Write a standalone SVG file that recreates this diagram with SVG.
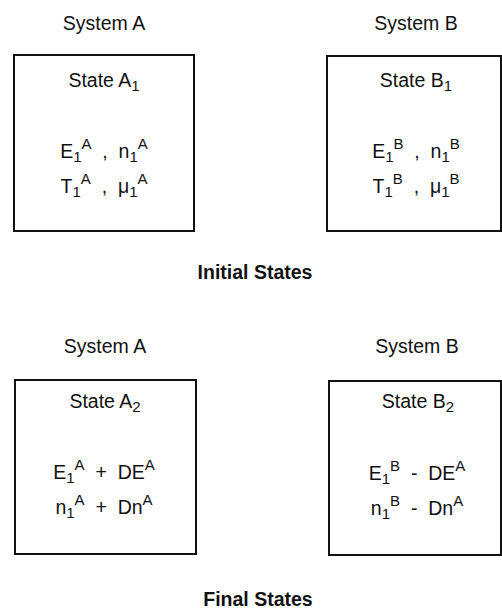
<svg xmlns="http://www.w3.org/2000/svg" width="502" height="612" viewBox="0 0 502 612">
<style>
text{font-family:"Liberation Sans",Arial,Helvetica,sans-serif;font-size:19.5px;fill:#111;text-anchor:middle;white-space:pre}
.b{font-weight:bold}
.s{font-size:15px}
.box{fill:#fff;stroke:#111;stroke-width:2}
</style>
<rect x="0" y="0" width="502" height="612" fill="#fff"/>
<g id="initial">
<g id="sysA1"><text x="104" y="30">System A</text></g>
<g id="sysB1"><text x="416" y="30">System B</text></g>
<g id="stateA1">
<rect class="box" x="14" y="55" width="180" height="176"/>
<text x="104" y="87">State A<tspan class="s" dy="4">1</tspan></text>
<text x="104" y="158" xml:space="preserve">E<tspan class="s" dy="4">1</tspan><tspan class="s" dy="-13">A</tspan><tspan dy="9">  ,  n</tspan><tspan class="s" dy="4">1</tspan><tspan class="s" dy="-13">A</tspan></text>
<text x="104" y="193" xml:space="preserve">T<tspan class="s" dy="4">1</tspan><tspan class="s" dy="-13">A</tspan><tspan dy="9">  ,  μ</tspan><tspan class="s" dy="4">1</tspan><tspan class="s" dy="-13">A</tspan></text>
</g>
<g id="stateB1">
<rect class="box" x="327" y="56" width="174" height="175"/>
<text x="416" y="87">State B<tspan class="s" dy="4">1</tspan></text>
<text x="416" y="158" xml:space="preserve">E<tspan class="s" dy="4">1</tspan><tspan class="s" dy="-13">B</tspan><tspan dy="9">  ,  n</tspan><tspan class="s" dy="4">1</tspan><tspan class="s" dy="-13">B</tspan></text>
<text x="416" y="193" xml:space="preserve">T<tspan class="s" dy="4">1</tspan><tspan class="s" dy="-13">B</tspan><tspan dy="9">  ,  μ</tspan><tspan class="s" dy="4">1</tspan><tspan class="s" dy="-13">B</tspan></text>
</g>
<g id="initialLabel"><text class="b" x="255" y="279">Initial States</text></g>
</g>
<g id="final">
<g id="sysA2"><text x="105" y="353">System A</text></g>
<g id="sysB2"><text x="417" y="353">System B</text></g>
<g id="stateA2">
<rect class="box" x="15" y="380" width="181" height="174"/>
<text x="105" y="408">State A<tspan class="s" dy="4">2</tspan></text>
<text x="104" y="479" xml:space="preserve">E<tspan class="s" dy="4">1</tspan><tspan class="s" dy="-13">A</tspan><tspan dy="9">  +  DE</tspan><tspan class="s" dy="-9">A</tspan></text>
<text x="104" y="514" xml:space="preserve">n<tspan class="s" dy="4">1</tspan><tspan class="s" dy="-13">A</tspan><tspan dy="9">  +  Dn</tspan><tspan class="s" dy="-9">A</tspan></text>
</g>
<g id="stateB2">
<rect class="box" x="329" y="381" width="172" height="174"/>
<text x="418" y="408">State B<tspan class="s" dy="4">2</tspan></text>
<text x="417" y="480" xml:space="preserve">E<tspan class="s" dy="4">1</tspan><tspan class="s" dy="-13">B</tspan><tspan dy="9">  -  DE</tspan><tspan class="s" dy="-9">A</tspan></text>
<text x="417" y="515" xml:space="preserve">n<tspan class="s" dy="4">1</tspan><tspan class="s" dy="-13">B</tspan><tspan dy="9">  -  Dn</tspan><tspan class="s" dy="-9">A</tspan></text>
</g>
<g id="finalLabel"><text class="b" x="258" y="606">Final States</text></g>
</g>
</svg>
